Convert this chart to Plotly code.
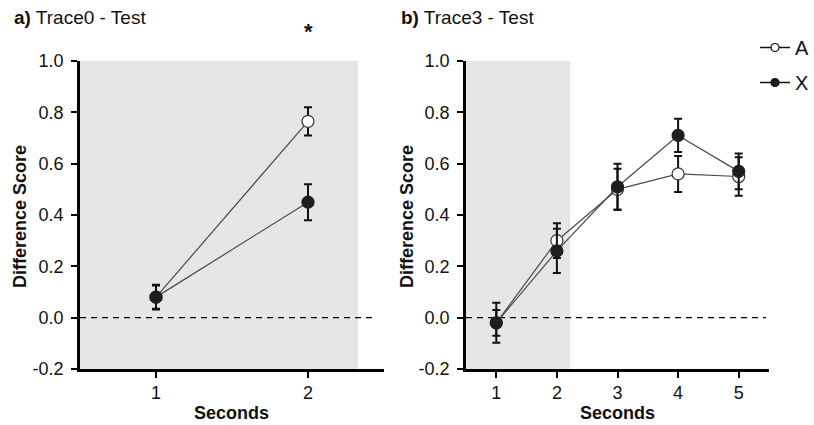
import plotly.graph_objects as go

# ---- data ----
left_x = [1, 2]
left_A = [0.08, 0.765]
left_A_err = [0.045, 0.055]
left_X = [0.08, 0.45]
left_X_err = [0.048, 0.07]

right_x = [1, 2, 3, 4, 5]
right_A = [-0.02, 0.30, 0.50, 0.56, 0.55]
right_A_err = [0.05, 0.068, 0.08, 0.07, 0.075]
right_X = [-0.02, 0.26, 0.51, 0.71, 0.57]
right_X_err = [0.078, 0.086, 0.09, 0.065, 0.07]

y_ticks = [-0.2, 0.0, 0.2, 0.4, 0.6, 0.8, 1.0]
y_ticklabels = ["-0.2", "0.0", "0.2", "0.4", "0.6", "0.8", "1.0"]
series_names = ["A", "X"]

FONT = "Liberation Sans, Arial, Helvetica, sans-serif"
LINE_C = "#4a4a4a"
DARK = "#1e1e1e"

fig = go.Figure()


def add_series(x, y, err, xa, ya, name, filled):
    fig.add_trace(go.Scatter(
        x=x, y=y, xaxis=xa, yaxis=ya, name=name, mode="lines+markers",
        line=dict(color=LINE_C, width=1.2),
        marker=dict(size=12, symbol="circle",
                    color=DARK if filled else "white",
                    line=dict(color=DARK if filled else "#333333", width=1.2)),
        error_y=dict(type="data", array=err, visible=True, color="#111111",
                     thickness=2, width=4),
        showlegend=False,
    ))


add_series(left_x, left_A, left_A_err, "x", "y", series_names[0], False)
add_series(left_x, left_X, left_X_err, "x", "y", series_names[1], True)
add_series(right_x, right_A, right_A_err, "x2", "y2", series_names[0], False)
add_series(right_x, right_X, right_X_err, "x2", "y2", series_names[1], True)

# legend-only entries with small markers
for nm, filled in zip(series_names, [False, True]):
    fig.add_trace(go.Scatter(
        x=[None], y=[None], xaxis="x2", yaxis="y2", name=nm, legendgroup=nm,
        mode="lines+markers", line=dict(color="#111", width=1.5),
        marker=dict(size=8, color=DARK if filled else "white",
                    line=dict(color="#111", width=1.2)),
        showlegend=True))

axis_common = dict(showgrid=False, zeroline=False, showline=True, linecolor="black",
                   linewidth=2.5, ticks="outside", ticklen=6, tickwidth=2,
                   automargin=False,
                   tickcolor="black", tickfont=dict(family=FONT, size=18, color="#111"))

fig.update_layout(
    width=814, height=425,
    margin=dict(l=0, r=0, t=0, b=0),
    paper_bgcolor="white", plot_bgcolor="white",
    font=dict(family=FONT, color="#111"),
    xaxis=dict(domain=[80 / 814, 384 / 814], range=[0.5, 2.5],
               tickvals=[1, 2], ticktext=["1", "2"], anchor="y", **axis_common),
    yaxis=dict(domain=[1 - 369 / 425, 1 - 61 / 425], range=[-0.2, 1.0],
               tickvals=y_ticks, ticktext=y_ticklabels, anchor="x",
               ticklabelstandoff=4, **axis_common),
    xaxis2=dict(domain=[466 / 814, 769 / 814], range=[0.5, 5.5],
                tickvals=[1, 2, 3, 4, 5], ticktext=["1", "2", "3", "4", "5"],
                anchor="y2", **axis_common),
    yaxis2=dict(domain=[1 - 369 / 425, 1 - 61 / 425], range=[-0.2, 1.0],
                tickvals=y_ticks, ticktext=y_ticklabels, anchor="x2",
                ticklabelstandoff=4, **axis_common),
    legend=dict(x=755 / 814, y=1 - 28 / 425, xanchor="left", yanchor="top",
                font=dict(family=FONT, size=20, color="#111"),
                itemwidth=30, tracegroupgap=6, bgcolor="rgba(0,0,0,0)"),
)

# shaded regions and zero lines
fig.add_shape(type="rect", xref="x", yref="y", x0=0.5, x1=2.33, y0=-0.2, y1=1.0,
              fillcolor="#e6e6e6", line=dict(width=0), layer="below")
fig.add_shape(type="rect", xref="x2", yref="y2", x0=0.5, x1=2.22, y0=-0.2, y1=1.0,
              fillcolor="#e6e6e6", line=dict(width=0), layer="below")
fig.add_shape(type="line", xref="x", yref="y", x0=0.5, x1=2.45, y0=0, y1=0,
              line=dict(color="black", width=1.2, dash="6px,5px"), layer="below")
fig.add_shape(type="line", xref="x2", yref="y2", x0=0.5, x1=5.45, y0=0, y1=0,
              line=dict(color="black", width=1.2, dash="6px,5px"), layer="below")

# annotations
ann = [
    dict(text="<b>a)</b> Trace0 - Test", x=12 / 814, y=1 - 17 / 425, xanchor="left", size=19),
    dict(text="<b>b)</b> Trace3 - Test", x=399 / 814, y=1 - 17 / 425, xanchor="left", size=19),
    dict(text="<b>Seconds</b>", x=231 / 814, y=1 - 413 / 425, xanchor="center", size=18),
    dict(text="<b>Seconds</b>", x=617 / 814, y=1 - 413 / 425, xanchor="center", size=18),
]
for a in ann:
    sz = a.pop("size")
    fig.add_annotation(xref="paper", yref="paper", yanchor="middle", showarrow=False,
                       font=dict(family=FONT, size=sz, color="#111"), **a)
for xp in [20, 407]:
    fig.add_annotation(xref="paper", yref="paper", x=xp / 814, y=1 - 217 / 425,
                       text="<b>Difference Score</b>", textangle=-90, showarrow=False,
                       xanchor="center", yanchor="middle",
                       font=dict(family=FONT, size=18, color="#111"))
fig.add_annotation(xref="x", yref="paper", x=2, y=1 - 31 / 425, text="<b>*</b>",
                   showarrow=False, yanchor="middle",
                   font=dict(family=FONT, size=22, color="#111"))

fig.write_html("out.html")
